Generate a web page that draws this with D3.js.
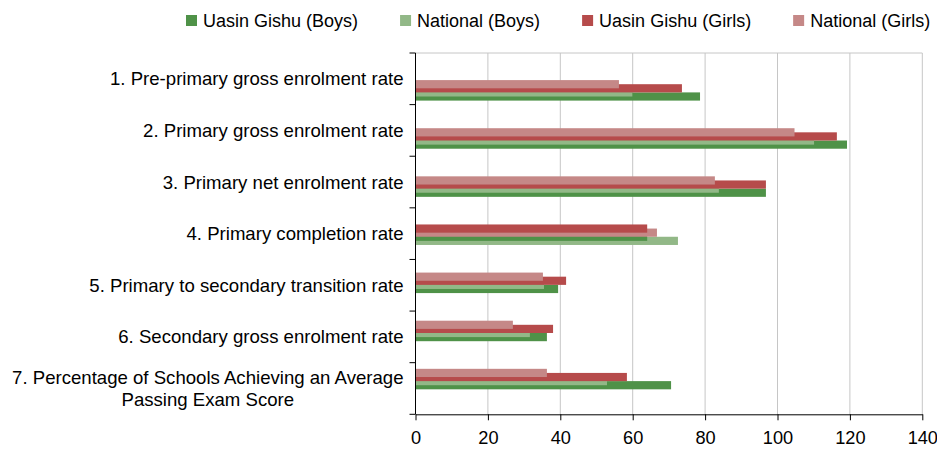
<!DOCTYPE html>
<html>
<head>
<meta charset="utf-8">
<script src="https://cdn.jsdelivr.net/npm/d3@7"></script>
<style>
  body { margin: 0; background: #fff; }
  text { font-family: "Liberation Sans", Arial, sans-serif; fill: #000; }
</style>
</head>
<body>
<div id="chart"></div>
<script>
// data
const categories = [
  "1. Pre-primary gross enrolment rate",
  "2. Primary gross enrolment rate",
  "3. Primary net enrolment rate",
  "4. Primary completion rate",
  "5. Primary to secondary transition rate",
  "6. Secondary gross enrolment rate",
  "7. Percentage of Schools Achieving an Average Passing Exam Score"
];
const seriesNames = ["Uasin Gishu (Boys)", "National (Boys)", "Uasin Gishu (Girls)", "National (Girls)"];
const ugBoys   = [78.6, 119.2, 96.8, 64.0, 39.4, 36.3, 70.6];
const natBoys  = [59.9, 110.1, 83.8, 72.5, 35.5, 31.6, 52.9];
const ugGirls  = [73.6, 116.4, 96.8, 64.0, 41.6, 38.0, 58.4];
const natGirls = [56.2, 104.7, 82.7, 66.7, 35.2, 26.9, 36.3];
// row 4 has its pairs drawn in the opposite order in the original
const swappedRows = [false, false, false, true, false, false, false];
const xTicks = [0, 20, 40, 60, 80, 100, 120, 140];

const colors = ["#4f9248", "#92b887", "#b64b4b", "#c58887"];
const seriesValues = [ugBoys, natBoys, ugGirls, natGirls];

const W = 937, H = 450, FS = 18.6;
const plot = {left: 415.5, right: 922.3, top: 53, bottom: 414.3};

const svg = d3.select("#chart").append("svg")
    .attr("width", W)
    .attr("height", H);

const x = d3.scaleLinear()
    .domain([0, 140])
    .range([plot.left, plot.right]);

// labels and ticks sit on this band scale
const y = d3.scaleBand()
    .domain(categories)
    .range([plot.top, plot.bottom]);

// bar groups drift a little against the ticks in the original
const yBar = d3.scaleBand()
    .domain(categories)
    .range([80.1, 80.1 + 7 * 48.12]);

const inner = d3.scaleBand()
    .domain([0, 1, 2, 3])
    .range([0, 16.4]);
const barH = inner.step() * 2;

// gridlines
svg.append("g")
    .selectAll("line")
    .data(xTicks.slice(1))
    .join("line")
    .attr("x1", d => x(d)).attr("x2", d => x(d))
    .attr("y1", plot.top).attr("y2", plot.bottom)
    .attr("stroke", "#c6c6c6")
    .attr("stroke-width", 1);

svg.append("line")
    .attr("x1", plot.left).attr("x2", plot.right)
    .attr("y1", plot.top).attr("y2", plot.top)
    .attr("stroke", "#c6c6c6");

// bars: build list, slot 0 is top of the group and painted last
const bars = [];
categories.forEach((c, i) => {
  seriesValues.forEach((vals, s) => {
    let slot = 3 - s;
    if (swappedRows[i]) slot = slot ^ 1;
    bars.push({cat: c, value: vals[i], color: colors[s], slot: slot});
  });
});
bars.sort((a, b) => b.slot - a.slot);

svg.append("g")
    .selectAll("rect")
    .data(bars)
    .join("rect")
    .attr("x", x(0))
    .attr("y", d => yBar(d.cat) + inner(d.slot))
    .attr("width", d => x(d.value) - x(0))
    .attr("height", barH)
    .attr("fill", d => d.color);

// x axis
const xAxis = d3.axisBottom(x)
    .tickValues(xTicks)
    .tickSize(6)
    .tickSizeOuter(0)
    .tickPadding(11);

const gx = svg.append("g")
    .attr("transform", `translate(0,${plot.bottom})`)
    .call(xAxis);
gx.select(".domain").attr("stroke", "#000");
gx.selectAll(".tick line").attr("stroke", "#000");
gx.selectAll(".tick text")
    .attr("font-size", 18.2)
    .attr("font-family", "Liberation Sans, Arial, sans-serif")
    .attr("fill", "#000");

// y axis line + boundary ticks
svg.append("line")
    .attr("x1", plot.left).attr("x2", plot.left)
    .attr("y1", plot.top).attr("y2", plot.bottom)
    .attr("stroke", "#000");

svg.append("g")
    .selectAll("line")
    .data(categories)
    .join("line")
    .attr("x1", plot.left - 6).attr("x2", plot.left)
    .attr("y1", d => y(d)).attr("y2", d => y(d))
    .attr("stroke", "#000");

svg.append("line")
    .attr("x1", plot.left - 6).attr("x2", plot.left)
    .attr("y1", plot.bottom).attr("y2", plot.bottom)
    .attr("stroke", "#000");

// category labels (long one wraps onto two centred lines)
const labelLines = c => c.startsWith("7.")
  ? ["7. Percentage of Schools Achieving an Average", "Passing Exam Score"]
  : [c];

const labels = svg.append("g")
    .selectAll("text")
    .data(categories)
    .join("text")
    .attr("font-size", FS)
    .attr("dominant-baseline", "central");

labels.each(function(c) {
  const lines = labelLines(c);
  const t = d3.select(this);
  const cy = y(c) + y.bandwidth() / 2;
  if (lines.length === 1) {
    t.attr("x", plot.left - 12).attr("y", cy)
     .attr("text-anchor", "end").text(lines[0]);
  } else {
    // measure the first line to centre the block against the right edge
    t.attr("text-anchor", "middle");
    const probe = svg.append("text").attr("font-size", FS).text(lines[0]);
    const w = probe.node().getComputedTextLength();
    probe.remove();
    const cx = plot.left - 12 - w / 2;
    lines.forEach((ln, k) => {
      t.append("tspan")
        .attr("x", cx)
        .attr("y", cy + (k - (lines.length - 1) / 2) * 22)
        .text(ln);
    });
  }
});

// legend
const legend = svg.append("g");
let lx = 186;
seriesNames.forEach((name, s) => {
  legend.append("rect")
      .attr("x", lx).attr("y", 15)
      .attr("width", 11).attr("height", 11)
      .attr("fill", colors[s]);
  const t = legend.append("text")
      .attr("x", lx + 17).attr("y", 20.5)
      .attr("font-size", 18)
      .attr("dominant-baseline", "central")
      .text(name);
  lx += 17 + t.node().getComputedTextLength() + 42;
});
</script>
</body>
</html>
